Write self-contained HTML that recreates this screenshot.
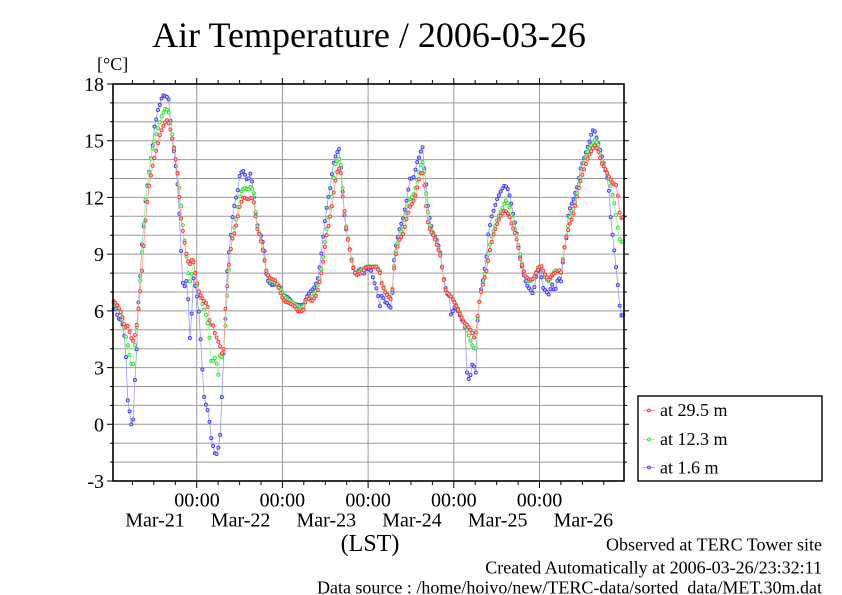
<!DOCTYPE html>
<html><head><meta charset="utf-8">
<style>
html,body{margin:0;padding:0;background:#fff;}
svg{display:block}
text{font-family:"Liberation Serif","DejaVu Serif",serif;fill:#000}
</style></head><body>
<svg id="c" width="842" height="595" viewBox="0 0 842 595" xmlns="http://www.w3.org/2000/svg">
<rect width="842" height="595" fill="#fff"/>
<text x="369" y="47" font-size="36" text-anchor="middle">Air Temperature / 2006-03-26</text>
<text x="97" y="70" font-size="18">[°C]</text>
<!-- grid -->
<g stroke="#9a9a9a" stroke-width="1" fill="none">
<path d="M113 102.9H624M113 121.8H624M113 140.7H624M113 159.6H624M113 178.5H624M113 197.4H624M113 216.3H624M113 235.2H624M113 254.1H624M113 273.1H624M113 292H624M113 310.9H624M113 329.8H624M113 348.7H624M113 367.6H624M113 386.5H624M113 405.4H624M113 424.3H624M113 443.2H624M113 462.1H624"/>
<path d="M196.7 84V481M282.4 84V481M368.1 84V481M453.8 84V481M539.5 84V481"/>
</g>
<g id="series"></g>
<!-- frame -->
<rect x="113" y="84" width="511" height="397" fill="none" stroke="#000" stroke-width="1.6"/>
<g stroke="#000" stroke-width="1" fill="none">
<path d="M107 84H113M110 102.9H113M110 121.8H113M107 140.7H113M110 159.6H113M110 178.5H113M107 197.4H113M110 216.3H113M110 235.2H113M107 254.1H113M110 273.1H113M110 292H113M107 310.9H113M110 329.8H113M110 348.7H113M107 367.6H113M110 386.5H113M110 405.4H113M107 424.3H113M110 443.2H113M110 462.1H113M107 481H113"/>
<path d="M624 102.9H627M624 121.8H627M624 140.7H629M624 159.6H627M624 178.5H627M624 197.4H629M624 216.3H627M624 235.2H627M624 254.1H629M624 273.1H627M624 292H627M624 310.9H629M624 329.8H627M624 348.7H627M624 367.6H629M624 386.5H627M624 405.4H627M624 424.3H629M624 443.2H627M624 462.1H627"/>
<path d="M196.7 78V84M282.4 78V84M368.1 78V84M453.8 78V84M539.5 78V84M132.4 80V84M153.8 80V84M175.3 80V84M218.1 80V84M239.6 80V84M261 80V84M303.8 80V84M325.3 80V84M346.7 80V84M389.5 80V84M411 80V84M432.4 80V84M475.2 80V84M496.7 80V84M518.1 80V84M560.9 80V84M582.4 80V84M603.8 80V84"/>
<path d="M196.7 481V488M282.4 481V488M368.1 481V488M453.8 481V488M539.5 481V488M132.4 481V485M153.8 481V485M175.3 481V485M218.1 481V485M239.6 481V485M261 481V485M303.8 481V485M325.3 481V485M346.7 481V485M389.5 481V485M411 481V485M432.4 481V485M475.2 481V485M496.7 481V485M518.1 481V485M560.9 481V485M582.4 481V485M603.8 481V485"/>
</g>
<!-- y labels -->
<g font-size="20" text-anchor="end">
<text x="104" y="91">18</text>
<text x="104" y="147.7">15</text>
<text x="104" y="204.4">12</text>
<text x="104" y="261.1">9</text>
<text x="104" y="317.9">6</text>
<text x="104" y="374.6">3</text>
<text x="104" y="431.3">0</text>
<text x="104" y="488">-3</text>
</g>
<!-- x labels -->
<g font-size="20" text-anchor="middle">
<text x="197" y="506.5">00:00</text>
<text x="282.4" y="506.5">00:00</text>
<text x="368.1" y="506.5">00:00</text>
<text x="453.8" y="506.5">00:00</text>
<text x="539.5" y="506.5">00:00</text>
<text x="155" y="526.7">Mar-21</text>
<text x="240.6" y="526.7">Mar-22</text>
<text x="326.3" y="526.7">Mar-23</text>
<text x="412" y="526.7">Mar-24</text>
<text x="497.7" y="526.7">Mar-25</text>
<text x="583.4" y="526.7">Mar-26</text>
</g>
<text x="370" y="551" font-size="24" text-anchor="middle">(LST)</text>
<!-- legend -->
<rect x="638" y="396" width="184" height="85" fill="#fff" stroke="#000" stroke-width="1.4"/>
<g stroke-width="0.8">
<line x1="643" y1="410.5" x2="655" y2="410.5" stroke="#ff8a8a"/>
<circle cx="649" cy="410.5" r="1.5" fill="#ffb0b0" stroke="#ff2a2a"/>
<line x1="643" y1="439.5" x2="655" y2="439.5" stroke="#8aff8a"/>
<circle cx="649" cy="439.5" r="1.5" fill="#b0ffb0" stroke="#22dd22"/>
<line x1="643" y1="467.5" x2="655" y2="467.5" stroke="#8a8aff"/>
<circle cx="649" cy="467.5" r="1.5" fill="#b0b0ff" stroke="#2a2aff"/>
</g>
<g font-size="18">
<text x="660" y="416">at 29.5 m</text>
<text x="660" y="445">at 12.3 m</text>
<text x="660" y="473.5">at 1.6 m</text>
</g>
<!-- footer -->
<g font-size="18" text-anchor="end">
<text x="822" y="550.5">Observed at TERC Tower site</text>
<text x="822" y="573.3">Created Automatically at 2006-03-26/23:32:11</text>
<text x="822" y="593.3">Data source : /home/hoivo/new/TERC-data/sorted_data/MET.30m.dat</text>
</g>
</svg>
<script>
(function(){
var blue=[113.3,6.1,115,6.15,118.3,5.6,121.7,5.5,123.3,5.07,125.7,4.1,127.3,1.43,129.3,0.8,131,0.1,132.7,-0.39,134.3,1.99,136,2.98,138.3,6.33,140,7.6,141.7,9.36,143.7,10.4,145,11.5,146.7,12.4,149,13.3,150.7,14.0,152.7,14.77,154,15.67,155.7,15.97,157.7,16.59,159.3,16.8,161.7,17.26,163.3,17.4,165.5,17.35,167.7,17.3,169.3,17.1,171,15.5,173.3,14.74,175.7,13.68,178.3,12.27,180.7,9.54,182.7,7.5,184.3,7.25,186.5,7.6,188.3,6.54,190,4.5,191.7,5.83,193.3,7.77,195,7.4,196.7,6.93,199.3,5.74,201.7,3.45,204.3,1.33,206.7,0.9,208.7,0.6,210.7,-0.6,212.7,-1.08,215,-1.57,216.7,-1.57,218.3,-1.26,220,-0.7,221.7,1.16,223.3,3.36,225.7,5.83,226.7,7.8,229,9.1,230.7,9.97,232,10.77,235,11.77,237.7,12.3,240,13.28,243.3,13.4,245,13.2,247.7,12.83,250,13.33,252.3,12.8,254.3,11.77,256.7,10.72,259,10.1,261.7,9.93,265,9.04,265.7,8.07,268.3,7.54,271.7,7.37,276.7,7.4,280,7.28,283.3,6.84,288.3,6.7,293.3,6.4,298.3,6.31,303.3,6.3,306.7,6.75,310,7.0,315,7.28,318.3,7.8,321,8.86,322.7,9.74,325,10.8,327.7,11.86,330,12.4,332.3,13.36,334.3,14.0,336,14.24,339,14.6,340.3,14.0,341.7,12.92,343.3,11.86,345,10.63,348.3,9.74,351,8.86,353.3,8.25,355.7,7.9,360,8.25,363.3,7.9,366.7,8.3,371.7,8.1,373.3,7.63,376,7.28,378.3,6.75,380,6.22,382.3,7.0,384.3,6.45,386.7,6.45,389.3,6.22,391.7,6.13,393.3,8.16,395,9.22,396.7,9.66,400,10.45,402.7,10.8,405,11.42,406.7,11.86,408.3,12.4,410,13.0,413.3,13.0,415,13.36,416.7,13.8,419.3,14.15,420.7,14.42,422.7,14.68,424.3,13.54,426.7,12.4,428.3,11.25,430.7,10.63,433.3,10.1,436.7,9.75,440,9.2,441.7,8.43,444,7.63,446.7,6.93,450,6.75,450.7,5.78,455,6.22,458.3,5.96,461.7,5.52,465,5.34,466.7,2.78,469,2.34,471,2.7,472.7,3.31,476,2.7,477.3,5.34,480,6.84,483.3,7.72,486.7,8.95,488.3,10.1,491.7,10.98,494.3,11.42,496.7,11.86,499,12.13,501.7,12.43,505,12.66,508.3,12.4,511,11.77,513.3,11.07,515.7,10.45,517.3,9.84,519,9.13,521,8.6,523.3,7.99,525,7.63,527.7,7.28,530.7,7.1,532.7,6.93,535,7.37,536.7,8.0,540,8.25,543.3,7.2,546.7,7.0,549,6.84,551.7,7.45,555,7.0,558.3,7.8,561.7,7.5,563.3,9.04,566.7,9.93,568.3,11.16,571,11.6,573.3,11.86,575,12.2,577.7,12.66,580,13.45,582.3,13.8,585,14.24,587.7,14.68,590,15.04,592.3,15.57,595,15.48,596.7,15.13,598.3,14.86,601,14.33,603.3,13.89,605.7,13.36,607.7,12.92,609.3,12.2,610.7,10.98,612.7,9.93,615,8.87,617.7,7.45,620,6.04,621.7,5.69,623.5,5.8];
var red=[113.3,6.54,116,6.4,119.3,6.1,121.7,5.83,125,5.13,128.3,5.22,130.7,4.6,133.3,4.4,136,4.95,138.3,6.0,140,6.89,142.3,8.3,146,11.12,149.3,12.7,153.3,13.86,156.7,14.56,160,15.35,164,15.88,166.7,16.1,169.3,15.88,171.7,15.26,175,14.3,177.3,13.42,180.7,11.03,184,9.8,186.7,8.92,189.3,8.39,192.7,8.83,194,8.4,196,7.77,198.3,7.07,201.7,6.72,205,6.45,207.3,6.37,210,5.3,213.3,5.22,215,4.78,217.3,4.5,220,4.16,223.3,3.45,225,5.83,226.7,6.89,228.3,8.12,231.7,9.7,235,10.2,238.3,11.12,240,11.6,243.3,12.0,248.3,11.9,251.7,12.0,254.3,11.69,256.7,10.45,260,9.93,263.3,9.04,266.7,7.99,270,7.72,275,7.63,278.3,7.28,281.7,6.75,285,6.49,290,6.4,295,6.22,298.3,5.96,303.3,6.0,306.7,6.75,311.7,6.49,316.7,6.84,320,7.63,322.3,8.25,325.7,9.74,328.3,10.45,331.7,11.42,334.3,12.48,336.7,13.28,339,13.54,341,13.28,342.3,12.2,344.3,11.33,346.7,10.1,349,9.48,351.7,8.6,354.3,8.07,356.7,7.9,361.7,8.0,366,8.3,376.7,8.34,380,8.0,381.7,7.45,385,7.0,388.3,6.75,391.7,6.57,393.3,7.9,396,9.04,399.3,9.74,403.3,10.1,406.7,10.89,410,11.5,413.3,11.77,416,12.2,418.3,12.83,420.7,13.28,423.3,13.28,425,12.2,427.3,10.8,430,10.28,434,9.93,437.3,9.4,440.7,8.86,443.3,7.8,446,7.0,450,6.84,455,6.4,458.3,6.04,463.3,5.43,467.3,5.25,471.7,4.9,475,4.46,477.3,5.6,480,6.75,484,7.63,486.7,8.16,490,9.22,493.3,10.0,496.7,10.54,500,10.98,505,11.33,509,11.07,511.7,10.54,515,10.1,517.7,9.57,520,8.78,523.3,8.16,525.7,7.8,530,7.63,533.3,7.7,536.7,8.07,541,8.43,544.3,7.99,548.3,7.63,551.7,7.9,555,7.99,559,8.16,561.7,8.0,563.3,8.95,566.7,10.0,570,10.63,572.3,10.89,575,11.5,578.3,12.4,581.7,13.1,585,13.63,588.3,14.15,591.7,14.5,595,14.77,598.3,14.42,601.7,13.8,605,13.54,609,13.1,611.7,12.83,615,12.66,617,12.66,619,11.33,621,10.89,623.5,10.98];
var green=[113.3,6.4,116,6.3,120,6.0,123.3,5.4,126.7,4.43,129,3.9,130.7,3.19,133.3,3.19,135,4.25,138.3,6.0,141.7,8.83,145,11.65,148.3,12.98,151.7,14.39,156.7,15.44,161.7,16.32,165,16.68,168.3,16.6,171.7,15.53,173.3,14.9,176.7,13.68,180,12.18,182.7,10.6,186.7,8.74,189.3,7.42,191.7,7.95,193.3,8.74,195,8.12,196.7,7.42,200,6.8,203.3,6.19,206.7,5.66,209,4.95,211,3.36,214,3.36,216,3.72,217.7,2.22,220,3.63,223.3,3.5,225.7,5.4,228.3,7.77,231.7,9.8,236,10.8,239.3,12.0,242,12.4,245,12.5,248,12.4,251,12.6,254,12.2,256.7,10.6,260,10.0,263.3,9.1,266.7,8.0,270,7.6,275,7.5,280,7.2,285,6.7,290,6.55,295,6.35,300,6.2,303.3,6.2,306.7,6.75,311.7,6.7,316.7,7.1,320,7.8,322.3,8.5,325.7,10.0,328.3,10.9,331.7,11.9,335,13.72,338,14.0,340.3,14.07,341.7,13.2,343.3,12.0,345,10.9,348.3,9.7,351.7,8.7,354.3,8.1,356.7,7.95,361.7,8.15,366,8.35,376.7,8.35,380,8.1,381.7,7.5,385,7.05,388.3,6.8,391.7,6.6,393.3,8.0,396,9.2,399.3,9.9,403.3,10.5,406.7,11.2,410,11.9,413.3,12.1,416,12.6,418.3,13.2,420.7,13.7,422.7,13.9,424.3,13.4,426.7,11.8,428.3,11.0,430,10.4,434,10.0,437.3,9.5,440.7,8.9,443.3,7.85,446,7.0,450,6.84,455,6.45,458.3,6.1,463.3,5.5,466.7,5.0,470,4.5,473.3,4.02,476,4.02,477.3,5.5,480,6.8,484,7.7,486.7,8.7,491.7,9.93,495,10.45,498.3,10.98,502.3,11.42,505.7,11.86,509,11.6,512.3,10.8,516.7,10.0,520,9.04,523.3,8.16,526.7,7.63,530,7.55,533.3,7.7,538.3,8.34,541,8.34,545,7.8,548.3,7.55,551.7,7.8,555,8.16,561,8.0,563.3,8.95,566.7,10.1,570,10.98,574.3,11.5,578.3,12.57,581.7,13.36,585,14.0,588.3,14.5,592.3,14.86,595,15.04,598.3,14.77,602.3,13.8,605,13.54,610,12.83,612.3,12.2,615,11.5,617.7,10.45,620,9.66,623.5,9.66];
var NS="http://www.w3.org/2000/svg";
var g=document.getElementById("series");
function build(kp,stroke,fill,lineCol){
  var pts=[];
  var n=kp.length/2;
  for(var x=113.6;x<=623.6;x+=1.7755){
    var i=0;
    while(i<n-2 && kp[2*(i+1)]<x) i++;
    var x0=kp[2*i],t0=kp[2*i+1],x1=kp[2*i+2],t1=kp[2*i+3];
    var f=(x-x0)/(x1-x0); if(f<0)f=0; if(f>1)f=1;
    var t=t0+(t1-t0)*f;
    pts.push([x,84+(18-t)*18.905]);
  }
  var d="";
  for(var k=0;k<pts.length;k++){d+=(k?"L":"M")+pts[k][0].toFixed(2)+" "+pts[k][1].toFixed(2);}
  var p=document.createElementNS(NS,"path");
  p.setAttribute("d",d);p.setAttribute("fill","none");p.setAttribute("stroke",lineCol);p.setAttribute("stroke-width","0.8");
  g.appendChild(p);
  var gg=document.createElementNS(NS,"g");
  gg.setAttribute("fill",fill);gg.setAttribute("stroke",stroke);gg.setAttribute("stroke-width","0.85");
  for(var k=0;k<pts.length;k++){
    var c=document.createElementNS(NS,"circle");
    c.setAttribute("cx",pts[k][0].toFixed(2));c.setAttribute("cy",pts[k][1].toFixed(2));c.setAttribute("r","1.55");
    gg.appendChild(c);
  }
  g.appendChild(gg);
}
build(blue,"#3535ff","#c4c4ff","#9a9aff");
build(green,"#2ae02a","#c4ffc4","#9aff9a");
build(red,"#ff3030","#ffc4c4","#ff9a9a");
})();
</script>
</body></html>
